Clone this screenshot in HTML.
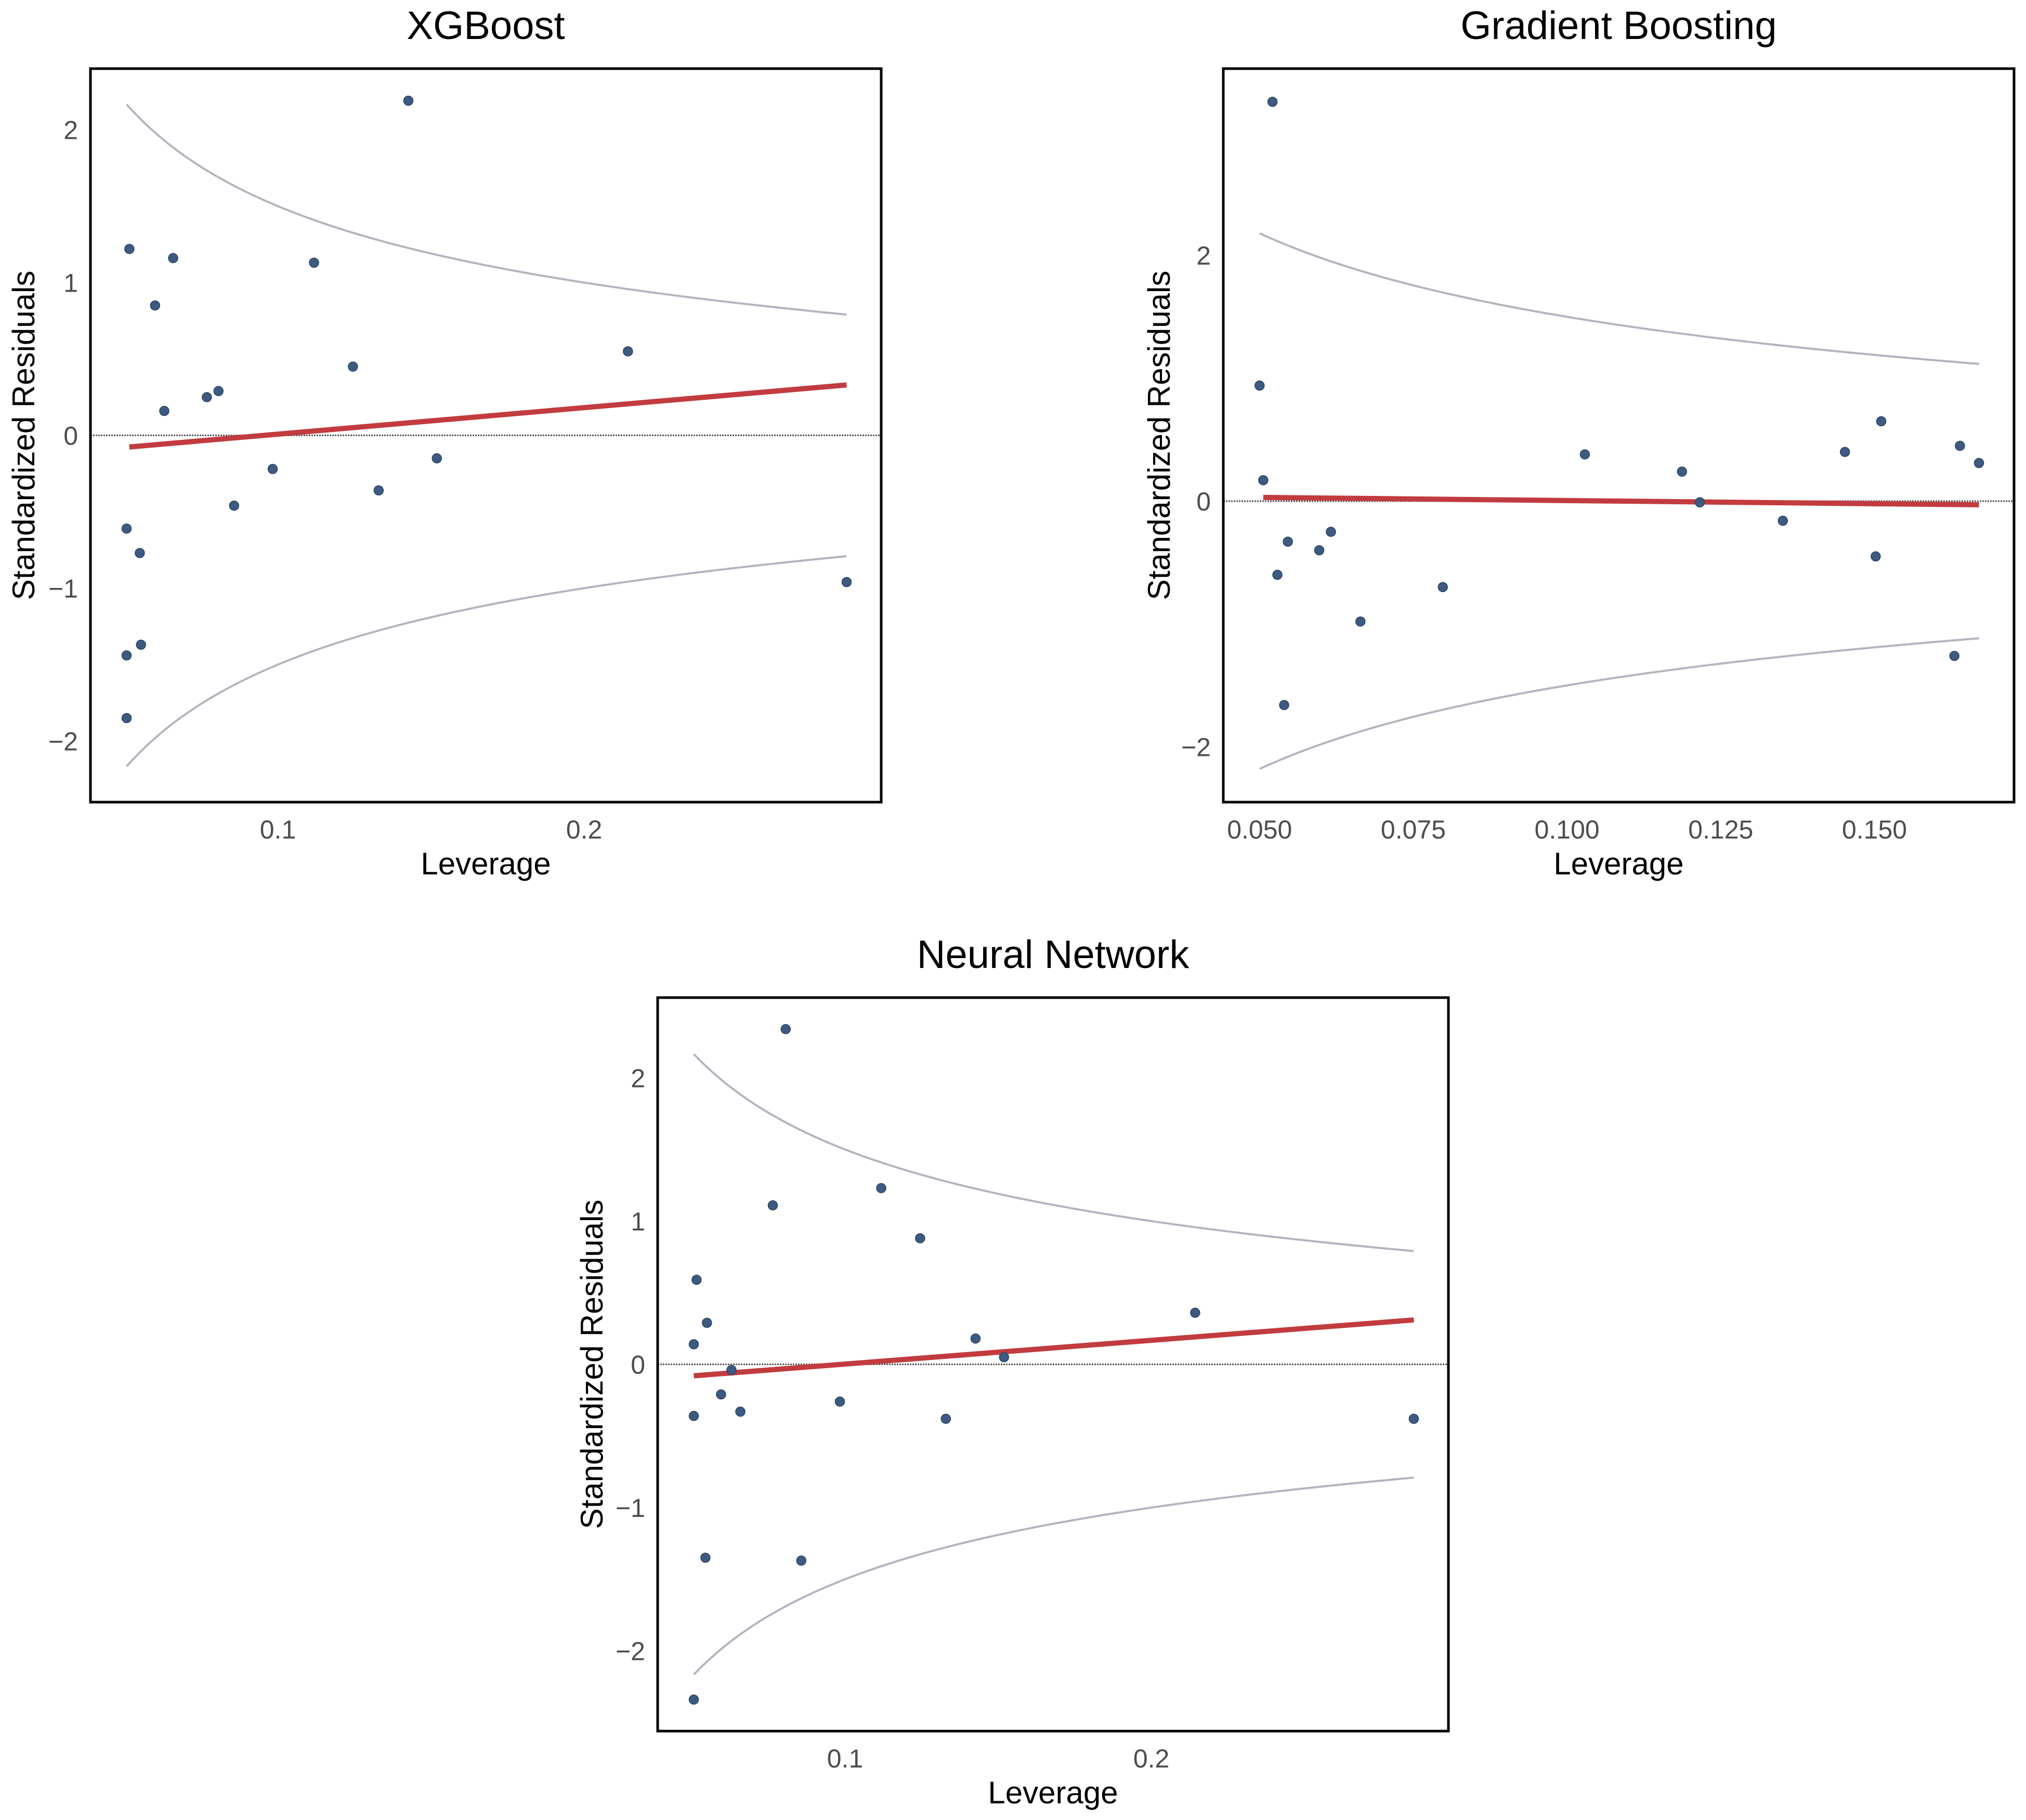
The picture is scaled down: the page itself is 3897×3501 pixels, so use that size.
<!DOCTYPE html>
<html><head><meta charset="utf-8"><style>
html,body{margin:0;padding:0;background:#fff;}
svg{display:block;font-family:"Liberation Sans",Arial,sans-serif;}
</style></head><body>
<svg id="fig" width="3897" height="3501" viewBox="0 0 3897 3501" xmlns="http://www.w3.org/2000/svg"></svg>
<script>
// ---- XGBoost data ----
const xgbLeverage = [0.0506,0.0515,0.0599,0.0549,0.0506,0.0553,0.0506,0.0629,0.0658,0.0768,0.0806,0.0857,0.0983,0.1118,0.1245,0.1329,0.1426,0.1519,0.2143,0.2857];
const xgbResid    = [-0.61,1.22,0.85,-0.77,-1.44,-1.37,-1.85,0.16,1.16,0.25,0.29,-0.46,-0.22,1.13,0.45,-0.36,2.19,-0.15,0.55,-0.96];
const xgbFitX = [0.0515,0.2857];
const xgbFitY = [-0.076,0.33];
const xgbXTicks = [0.1,0.2];
const xgbXTickLabels = ["0.1","0.2"];
const xgbYTicks = [-2,-1,0,1,2];
const xgbYTickLabels = ["\u22122","\u22121","0","1","2"];

// ---- Gradient Boosting data ----
const gbLeverage = [0.0521,0.0500,0.0506,0.0529,0.0546,0.0540,0.0597,0.0616,0.0664,0.0798,0.1029,0.1187,0.1216,0.1351,0.1452,0.1502,0.1511,0.1630,0.1639,0.1670];
const gbResid    = [3.25,0.94,0.17,-0.60,-0.33,-1.66,-0.40,-0.25,-0.98,-0.70,0.38,0.24,-0.01,-0.16,0.40,-0.45,0.65,-1.26,0.45,0.31];
const gbFitX = [0.0506,0.1670];
const gbFitY = [0.03,-0.03];
const gbXTicks = [0.05,0.075,0.1,0.125,0.15];
const gbXTickLabels = ["0.050","0.075","0.100","0.125","0.150"];
const gbYTicks = [-2,0,2];
const gbYTickLabels = ["\u22122","0","2"];

// ---- Neural Network data ----
const nnLeverage = [0.0806,0.0515,0.0506,0.0549,0.0506,0.0595,0.0629,0.0658,0.0764,0.0544,0.0857,0.0506,0.0983,0.1118,0.1245,0.1329,0.1426,0.1519,0.2143,0.2857];
const nnResid    = [2.34,0.59,0.14,0.29,-0.36,-0.21,-0.04,-0.33,1.11,-1.35,-1.37,-2.34,-0.26,1.23,0.88,-0.38,0.18,0.05,0.36,-0.38];
const nnFitX = [0.0506,0.2857];
const nnFitY = [-0.08,0.31];
const nnXTicks = [0.1,0.2];
const nnXTickLabels = ["0.1","0.2"];
const nnYTicks = [-2,-1,0,1,2];
const nnYTickLabels = ["\u22122","\u22121","0","1","2"];

const cookK = 0.25;

const NS="http://www.w3.org/2000/svg";
const svg=document.getElementById('fig');
function mk(tag,attrs,parent){const e=document.createElementNS(NS,tag);for(const k in attrs)e.setAttribute(k,attrs[k]);(parent||svg).appendChild(e);return e;}

const panels=[
 {key:'xgboost',title:'XGBoost',box:[174,132,1695,1543],xd:[0.0388,0.297],yd:[-2.40,2.40],
  lx:xgbLeverage,ly:xgbResid,fx:xgbFitX,fy:xgbFitY,xt:xgbXTicks,xtl:xgbXTickLabels,yt:xgbYTicks,ytl:xgbYTickLabels,ylabX:45,xlabY:1682,titleY:75},
 {key:'gradient-boosting',title:'Gradient Boosting',box:[2353,132,3874,1543],xd:[0.0441,0.1727],yd:[-2.45,3.52],
  lx:gbLeverage,ly:gbResid,fx:gbFitX,fy:gbFitY,xt:gbXTicks,xtl:gbXTickLabels,yt:gbYTicks,ytl:gbYTickLabels,ylabX:2229,xlabY:1682,titleY:75},
 {key:'neural-network',title:'Neural Network',box:[1265,1919,2786,3330],xd:[0.0388,0.297],yd:[-2.56,2.56],
  lx:nnLeverage,ly:nnResid,fx:nnFitX,fy:nnFitY,xt:nnXTicks,xtl:nnXTickLabels,yt:nnYTicks,ytl:nnYTickLabels,ylabX:1138,xlabY:3469,titleY:1862}
];

panels.forEach(p=>{
  const [L,T,R,B]=p.box;
  const g=mk('g',{});
  
  
  const X=v=>L+(v-p.xd[0])/(p.xd[1]-p.xd[0])*(R-L);
  const Y=v=>B-(v-p.yd[0])/(p.yd[1]-p.yd[0])*(B-T);
  const cx=(L+R)/2, cy=(T+B)/2;
  const t=mk('text',{x:cx,y:p.titleY,'text-anchor':'middle','font-size':76,fill:'#000'},g);t.textContent=p.title;
  
  
  // zero line
  const z=mk('line',{x1:L,x2:R,y1:Y(0),y2:Y(0),stroke:'#555','stroke-width':3,'stroke-dasharray':'3 2'},g);
  
  
  // cook's distance contours
  const h0=Math.min(...p.lx), h1=Math.max(...p.lx);
  [1,-1].forEach(sgn=>{
    let d='';
    for(let i=0;i<=120;i++){const h=h0+(h1-h0)*i/120;const r=sgn*Math.sqrt(cookK*(1-h)/h);d+=(i?'L':'M')+X(h).toFixed(1)+' '+Y(r).toFixed(1);}
    const c=mk('path',{d:d,fill:'none',stroke:'#b4b4c0','stroke-width':4},g);
    
    
  });
  // fit line
  const f=mk('line',{x1:X(p.fx[0]),y1:Y(p.fy[0]),x2:X(p.fx[1]),y2:Y(p.fy[1]),stroke:'#c23b3e','stroke-width':10},g);
  
  
  // points
  p.lx.forEach((v,i)=>{
    const c=mk('circle',{cx:X(v),cy:Y(p.ly[i]),r:9,fill:'#3d5a80',stroke:'#2c4466','stroke-width':1.5},g);
    
    
  });
  // box
  const b=mk('rect',{x:L,y:T,width:R-L,height:B-T,fill:'none',stroke:'#000','stroke-width':5},g);
  
  
  // ticks
  p.xt.forEach((v,i)=>{
    const e=mk('text',{x:X(v),y:B+70,'text-anchor':'middle','font-size':50,fill:'#4d4d4d'},g);e.textContent=p.xtl[i];
    
    
  });
  p.yt.forEach((v,i)=>{
    const e=mk('text',{x:L-24,y:Y(v)+18,'text-anchor':'end','font-size':50,fill:'#4d4d4d'},g);e.textContent=p.ytl[i];
    
    
  });
  const xl=mk('text',{x:cx,y:p.xlabY,'text-anchor':'middle','font-size':60,fill:'#000'},g);xl.textContent='Leverage';
  
  
  const yl=mk('text',{x:0,y:0,'text-anchor':'middle','font-size':60,fill:'#000',transform:`translate(${p.ylabX+21},${cy}) rotate(-90)`},g);yl.textContent='Standardized Residuals';
  
  
});
</script>
</body></html>
